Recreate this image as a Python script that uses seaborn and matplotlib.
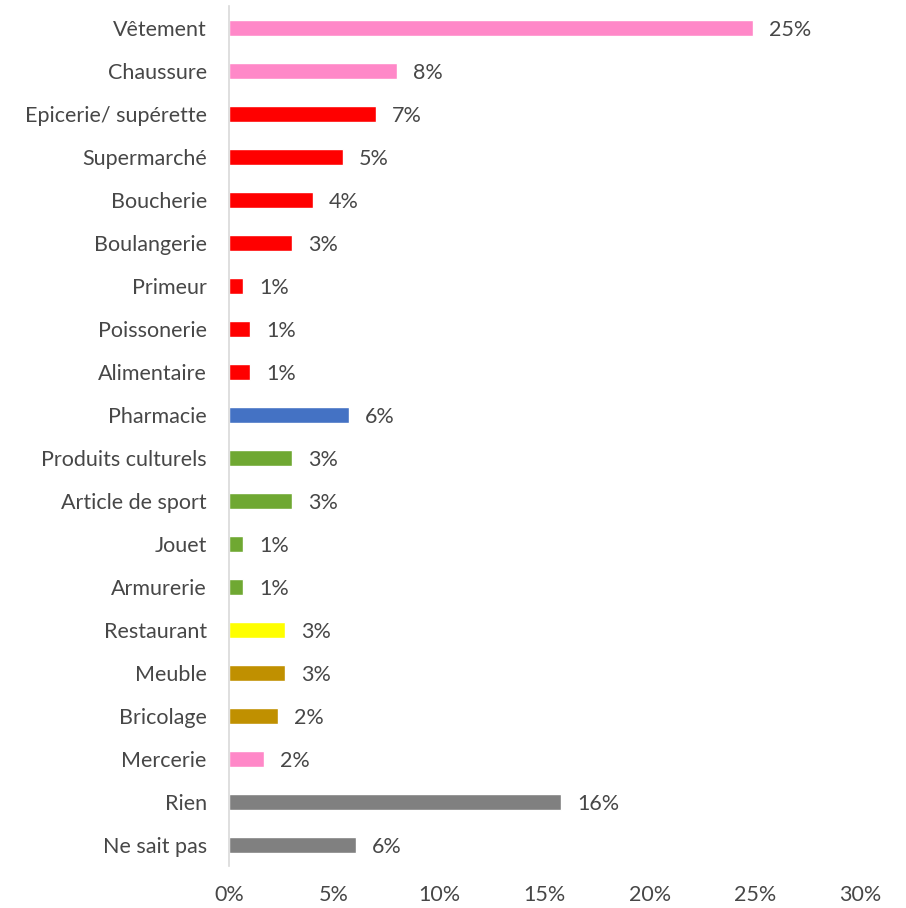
import matplotlib
matplotlib.use("Agg")
import matplotlib.pyplot as plt
import seaborn as sns
import pandas as pd
from matplotlib.ticker import FuncFormatter

categories = ["Vêtement", "Chaussure", "Epicerie/ supérette", "Supermarché", "Boucherie",
              "Boulangerie", "Primeur", "Poissonerie", "Alimentaire", "Pharmacie",
              "Produits culturels", "Article de sport", "Jouet", "Armurerie", "Restaurant",
              "Meuble", "Bricolage", "Mercerie", "Rien", "Ne sait pas"]
values = [24.9, 8.0, 7.0, 5.4, 4.0, 3.0, 0.67, 1.0, 1.0, 5.7,
          3.0, 3.0, 0.67, 0.67, 2.66, 2.66, 2.33, 1.66, 15.8, 6.04]
bar_colors = ["#FF88C8", "#FF88C8", "#FF0000", "#FF0000", "#FF0000",
              "#FF0000", "#FF0000", "#FF0000", "#FF0000", "#4472C4",
              "#6FA832", "#6FA832", "#6FA832", "#6FA832", "#FFFF00",
              "#C09000", "#C09000", "#FF88C8", "#808080", "#808080"]
xticks = [0, 5, 10, 15, 20, 25, 30]

sns.set_theme(style="white")
plt.rcParams['font.family'] = ['Lato', 'DejaVu Sans']

df = pd.DataFrame({"cat": categories, "val": values})
fig = plt.figure(figsize=(9.06, 9.08), dpi=100)
ax = fig.add_axes([229/906, 1 - 866.5/908, (860 - 229)/906, (866.5 - 6.5)/908])
sns.barplot(data=df, x="val", y="cat", hue="cat", palette=bar_colors, legend=False,
            width=0.37, ax=ax, saturation=1)
ax.set_xlim(0, 30)
ax.set_ylim(19.5, -0.5)
ax.set_xticks(xticks)
ax.xaxis.set_major_formatter(FuncFormatter(lambda v, p: f"{v:.0f}%"))
ax.set_xlabel("")
ax.set_ylabel("")
text_color = "#474747"
fs = 15.5
ax.tick_params(axis="y", length=0, pad=16, labelsize=fs, labelcolor=text_color)
ax.tick_params(axis="x", length=0, pad=13, labelsize=fs, labelcolor=text_color)
for lbl in ax.get_yticklabels():
    lbl.set_verticalalignment("center_baseline")
for s in ["top", "right", "bottom"]:
    ax.spines[s].set_visible(False)
ax.spines["left"].set_color("#D9D9D9")
ax.spines["left"].set_linewidth(1.2)
for i, v in enumerate(values):
    ax.text(v + 0.75, i, f"{v:.0f}%", va="center_baseline", ha="left", fontsize=fs, color=text_color)
fig.savefig("out.png", dpi=100)
